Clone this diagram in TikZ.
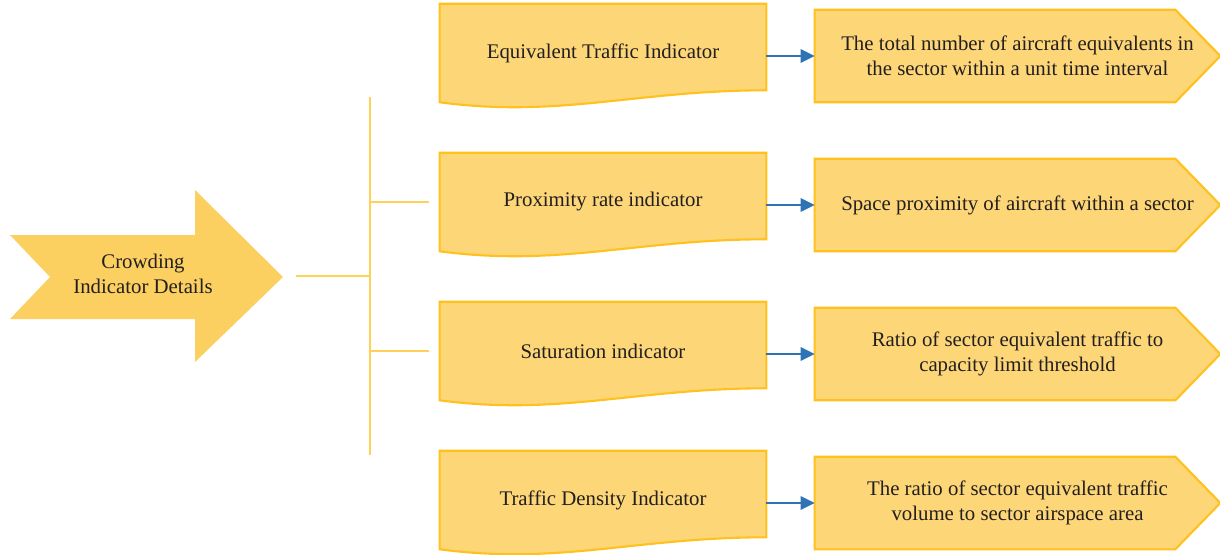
\documentclass[tikz,border=0pt]{standalone}
\usepackage{fontspec}
\setmainfont{Liberation Serif}
\usepackage{tikz}
\usetikzlibrary{positioning, arrows.meta, backgrounds}

\definecolor{arrowfill}{HTML}{FCD060}
\definecolor{boxfill}{HTML}{FDD677}
\definecolor{boxline}{HTML}{FFC11E}
\definecolor{spinecol}{HTML}{FFD257}
\definecolor{linkblue}{HTML}{2E74B5}
\definecolor{inkcol}{HTML}{231F20}

\begin{document}
\begin{tikzpicture}[
    x=0.025cm, y=-0.025cm,
    every node/.style={align=center, text=inkcol, font=\fontsize{14.8}{17.5}\selectfont},
    indicator/.style={inner sep=0pt, minimum width=8.15cm, minimum height=2.45cm},
    meaning/.style={inner sep=0pt, minimum width=10.125cm, minimum height=2.3cm},
    boxshape/.style={fill=boxfill, draw=boxline, line width=1.5pt},
    spine/.style={draw=spinecol, line width=0.8pt},
    link/.style={draw=linkblue, line width=1.4pt, -{Triangle[length=10pt, width=9.5pt]}}
]
\useasboundingbox (0,0) rectangle (1220,554);

\node (crowd) at (143,274) {Crowding\\Indicator Details};

\node[indicator] (ind1) at (603,53)  {Equivalent Traffic Indicator};
\node[indicator] (ind2) at (603,202) {Proximity rate indicator};
\node[indicator] (ind3) at (603,351) {Saturation indicator};
\node[indicator] (ind4) at (603,500) {Traffic Density Indicator};

\node[meaning] (def1) at (1017.5,56)  {The total number of aircraft equivalents in\\the sector within a unit time interval};
\node[meaning] (def2) at (1017.5,205) {Space proximity of aircraft within a sector};
\node[meaning] (def3) at (1017.5,354) {Ratio of sector equivalent traffic to\\capacity limit threshold};
\node[meaning] (def4) at (1017.5,503) {The ratio of sector equivalent traffic\\volume to sector airspace area};

\begin{scope}[on background layer]
    \fill[arrowfill] (10,235) -- (195,235) -- (195,190) -- (283,277) -- (195,362)
        -- (195,319) -- (10,319) -- (50,277) -- cycle;
    \foreach \i in {1,...,4} {
        \path[boxshape] (ind\i.north west) -- (ind\i.north east) -- ([yshift=0.3cm]ind\i.south east)
            .. controls +(-130,0) and +(120,16) .. (ind\i.south west) -- cycle;
        \path[boxshape] (def\i.north west) -- ([xshift=-1.125cm]def\i.north east) -- (def\i.east)
            -- ([xshift=-1.125cm]def\i.south east) -- (def\i.south west) -- cycle;
    }
\end{scope}

\coordinate (tail) at (296,276);
\coordinate (hub) at (370,276);
\coordinate (top) at (370,97);
\coordinate (bottom) at (370,455);
\draw[spine] (tail) -- (hub);
\draw[spine] (top) -- (bottom);
\draw[spine] (top |- ind2.east) -- ([xshift=-0.275cm]ind2.west);
\draw[spine] (top |- ind3.east) -- ([xshift=-0.275cm]ind3.west);

\foreach \i in {1,...,4}
    \draw[link] (ind\i.east |- def\i.west) -- (def\i.west);
\end{tikzpicture}
\end{document}
